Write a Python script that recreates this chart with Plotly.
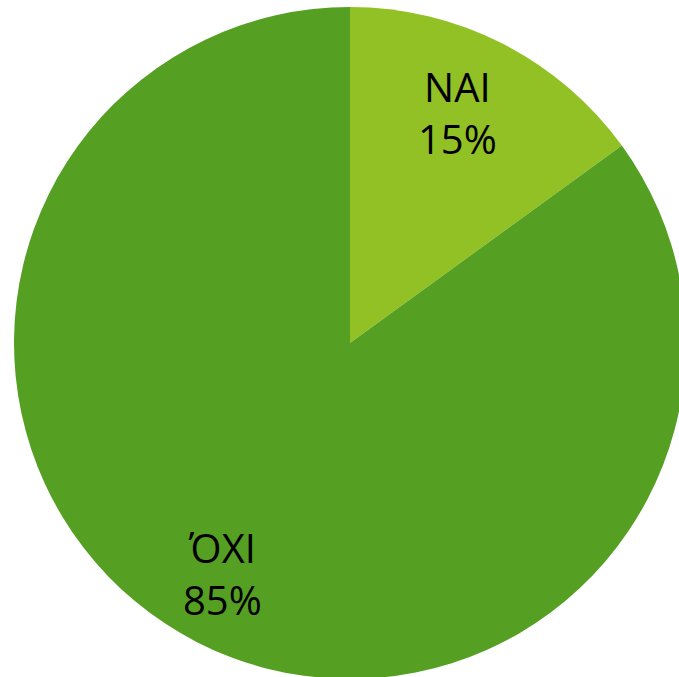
"""
Pie chart: ΝΑΙ / ΌΧΙ answer split
"""

import math
import plotly.graph_objects as go

# Data
labels = ['ΝΑΙ', 'ΌΧΙ']
values = [15, 85]
colors = ['#92C126', '#55A023']

# Figure size (px) - a bit larger than the window so the pie bleeds off the
# right and bottom edges like the original slide
W, H = 700, 700


def create_pie_chart():
    """Create the two-slice pie"""
    fig = go.Figure()

    # circle of radius 336 centred at (350, 343) from the top-left corner
    cx_px, cy_px, r_px = 350, H - 343, 336
    dom_x = [(cx_px - r_px) / W, (cx_px + r_px) / W]
    dom_y = [(cy_px - r_px) / H, (cy_px + r_px) / H]

    fig.add_trace(go.Pie(
        labels=labels,
        values=values,
        sort=False,
        direction='clockwise',
        rotation=0,
        domain=dict(x=dom_x, y=dom_y),
        marker=dict(colors=colors, line=dict(width=0)),
        textinfo='none',
        showlegend=False,
        hoverinfo='label+percent',
    ))

    # labels placed at each slice's mid-angle, ~77% of the radius out
    total = sum(values)
    cum = 0
    for lab, val in zip(labels, values):
        mid = (cum + val / 2) / total * 2 * math.pi
        cum += val
        dist = 0.77 * r_px
        x = (cx_px + dist * math.sin(mid)) / W
        y = (cy_px + dist * math.cos(mid)) / H
        fig.add_annotation(
            x=x, y=y, xref='paper', yref='paper',
            text=f'{lab}<br>{round(val / total * 100)}%',
            showarrow=False,
            xanchor='center', yanchor='middle', align='center',
            xshift=-10,
            font=dict(family='Open Sans, sans-serif', size=40, color='black'),
        )

    fig.update_layout(
        width=W,
        height=H,
        margin=dict(l=0, r=0, t=0, b=0),
        paper_bgcolor='white',
        plot_bgcolor='white',
    )

    return fig


fig = create_pie_chart()
fig.write_html(
    "out.html",
    config={'displayModeBar': False},
    post_script="document.body.style.margin='0';"
                "document.body.style.overflow='hidden';"
                "document.documentElement.style.overflow='hidden';",
)
